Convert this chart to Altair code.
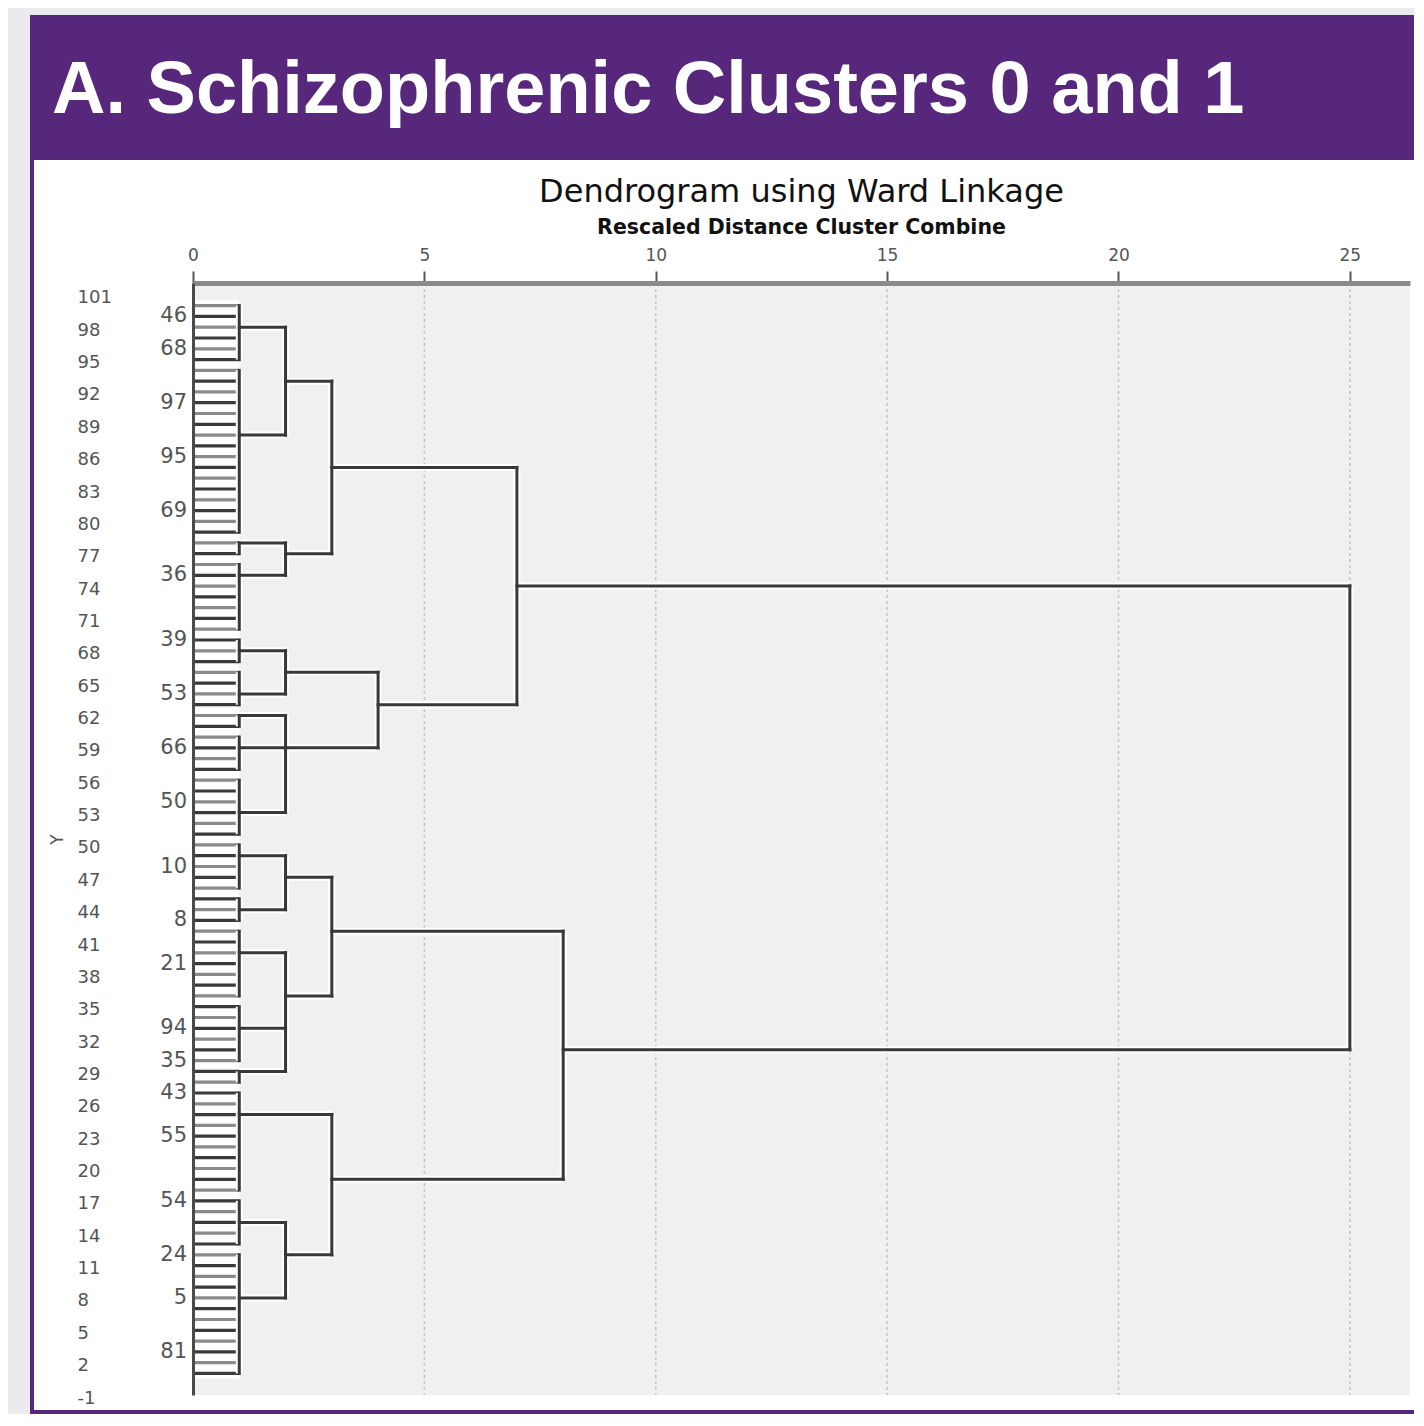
import altair as alt
import pandas as pd

# ---------------- data ----------------
header_text = "A. Schizophrenic Clusters 0 and 1"
chart_title = "Dendrogram using Ward Linkage"
chart_subtitle = "Rescaled Distance Cluster Combine"

x_ticks = [0, 5, 10, 15, 20, 25]
y_ticks = [101, 98, 95, 92, 89, 86, 83, 80, 77, 74, 71, 68, 65, 62, 59, 56, 53, 50,
           47, 44, 41, 38, 35, 32, 29, 26, 23, 20, 17, 14, 11, 8, 5, 2, -1]

# ordinal positions of the 100 cases (leaves), top to bottom
leaf_positions = list(range(100, 0, -1))

# case labels that are printed beside some leaves
leaf_label_text = ["46", "68", "97", "95", "69", "36", "39", "53", "66", "50", "10",
                   "8", "21", "94", "35", "43", "55", "54", "24", "5", "81"]
leaf_label_y = [99, 96, 91, 86, 81, 75, 69, 64, 59, 54, 48, 43, 39, 33, 30, 27, 23,
                17, 12, 8, 3]

# first-level clusters (joined at rescaled distance 1)
cluster_top = [100, 94, 78, 76, 69, 66, 62, 60, 56, 50, 45, 42, 35, 29, 27, 17, 12]
cluster_bottom = [95, 79, 77, 70, 67, 63, 61, 57, 51, 46, 43, 36, 30, 28, 18, 13, 1]
cluster_join_y = [98, 88, 78, 75, 68, 64, 62, 59, 53, 49, 44, 40, 33, 29, 25, 15, 8]
cluster_parent = [2, 2, 2, 2, 2, 2, 2, 2, 2, 2, 2, 2, 2, 2, 3, 2, 2]

# higher merge nodes
node_dist = [2, 2, 2, 2, 2, 2, 2, 3, 3, 3, 4, 7, 8, 25]
node_top = [98, 78, 68, 62, 49, 40, 15, 93, 47, 25, 66, 85, 42, 74]
node_bottom = [88, 75, 64, 53, 44, 29, 8, 77, 36, 12, 59, 63, 19, 31]
node_join_y = [93, 77, 66, 59, 47, 36, 12, 85, 42, 19, 63, 74, 31, None]
node_parent = [3, 3, 4, 4, 3, 3, 3, 7, 8, 8, 7, 25, 25, None]

# ---------------- tables ----------------
leaves = pd.DataFrame({
    "x": [0] * len(leaf_positions),
    "x2": [1] * len(leaf_positions),
    "y": leaf_positions,
    "y2": leaf_positions,
    "shade": ["a" if k % 2 == 0 else "b" for k in leaf_positions],
})

segs = []
for t, b, j, p in zip(cluster_top, cluster_bottom, cluster_join_y, cluster_parent):
    segs.append((1, 1, t, b))
    segs.append((1, p, j, j))
for d, t, b, j, p in zip(node_dist, node_top, node_bottom, node_join_y, node_parent):
    segs.append((d, d, t, b))
    if p is not None:
        segs.append((d, p, j, j))
links = pd.DataFrame(segs, columns=["x", "x2", "y", "y2"])

labels = pd.DataFrame({"x": [0] * len(leaf_label_text), "y": leaf_label_y,
                       "label": leaf_label_text})
grid = pd.DataFrame({"x": x_ticks[1:]})
leaf_area = pd.DataFrame({"x": [0], "x2": [1], "y": [0.5], "y2": [100.5]})
one = pd.DataFrame({"a": [0]})

# ---------------- layout ----------------
W, H = 1217, 1112
FONT = "DejaVu Sans"
PURPLE = "#57277b"

xscale = alt.Scale(domain=[0, 26.3], nice=False, zero=False)
yscale = alt.Scale(domain=[-1, 102.1], nice=False, zero=False)

xaxis = alt.Axis(orient="top", values=x_ticks, grid=False, title=None,
                 domainColor="#8a8a8a", domainWidth=5, tickColor="#555555",
                 tickSize=12, tickWidth=2, labelFont=FONT, labelFontSize=17,
                 labelColor="#555555", labelBaseline="middle", labelPadding=16,
                 labelFlush=False, zindex=1)
yaxis = alt.Axis(orient="left", values=y_ticks, grid=False, ticks=False, tickSize=0,
                 domainColor="#4a4a4a", domainWidth=3, labelFont=FONT,
                 labelFontSize=18, labelColor="#555555", labelAlign="left",
                 labelBaseline="middle", labelPadding=116, labelOffset=3,
                 labelFlush=False, labelExpr="datum.value + ''",
                 title="Y", titleFont=FONT, titleFontSize=17, titleFontWeight="normal",
                 titleColor="#555555", titleAngle=270, titleX=-136, titleY=H / 2,
                 titleAlign="center", titleBaseline="middle", zindex=1)

X = alt.X("x:Q", scale=xscale, axis=xaxis)
X2 = alt.X2("x2")
Y = alt.Y("y:Q", scale=yscale, axis=yaxis)
Y2 = alt.Y2("y2")

purple_frame = alt.Chart(one).mark_rect(color=PURPLE).encode(
    x=alt.value(-163), x2=alt.value(1240), y=alt.value(-268), y2=alt.value(1132))
white_panel = alt.Chart(one).mark_rect(color="white").encode(
    x=alt.value(-159), x2=alt.value(1240), y=alt.value(-123), y2=alt.value(1127))
plot_bg = alt.Chart(one).mark_rect(color="#f0f0f0").encode(
    x=alt.value(0), x2=alt.value(W), y=alt.value(0), y2=alt.value(H))

grid_lines = alt.Chart(grid).mark_rule(color="#c4c4c4", strokeWidth=1.5,
                                       strokeDash=[3, 3]).encode(
    x=X, y=alt.value(0), y2=alt.value(H))

leaf_bg = alt.Chart(leaf_area).mark_rect(color="white").encode(x=X, x2=X2, y=Y, y2=Y2)

leaf_lines = alt.Chart(leaves).mark_rule(strokeWidth=3.2).encode(
    x=X, x2=X2, y=Y, y2=Y2,
    color=alt.Color("shade:N", scale=alt.Scale(domain=["a", "b"],
                                                range=["#8a8a8a", "#3a3a3a"]),
                    legend=None))

halo = alt.Chart(links).mark_rule(color="white", strokeWidth=7).encode(
    x=X, x2=X2, y=Y, y2=Y2)
link_lines = alt.Chart(links).mark_rule(color="#383838", strokeWidth=3,
                                        strokeCap="square").encode(
    x=X, x2=X2, y=Y, y2=Y2)

leaf_text = alt.Chart(labels).mark_text(font=FONT, fontSize=21, color="#555555",
                                        align="right", baseline="middle", dx=-6).encode(
    x=X, y=Y, text="label:N")

header = alt.Chart(one).mark_text(text=header_text, font="Liberation Sans",
                                  fontSize=74, fontWeight="bold", color="white",
                                  align="left", baseline="alphabetic").encode(
    x=alt.value(-141), y=alt.value(-170))

title_mark = alt.Chart(one).mark_text(text=chart_title, font=FONT, fontSize=32,
                                      fontWeight="normal", color="#111111",
                                      align="center", baseline="alphabetic").encode(
    x=alt.value(W / 2), y=alt.value(-81))
subtitle_mark = alt.Chart(one).mark_text(text=chart_subtitle, font=FONT, fontSize=20.5,
                                         fontWeight="bold", color="#111111",
                                         align="center", baseline="alphabetic").encode(
    x=alt.value(W / 2), y=alt.value(-49))

chart = alt.layer(
    purple_frame, white_panel, plot_bg, grid_lines, leaf_bg, leaf_lines,
    halo, link_lines, leaf_text, header, title_mark, subtitle_mark
).properties(
    width=W, height=H,
    padding={"left": 185, "top": 275, "right": 4, "bottom": 19},
    autosize=alt.AutoSizeParams(type="none"),
    background="#ebebee",
).configure_view(stroke="#505050", strokeWidth=2.5)

chart.save("out.html", embed_options={"renderer": "svg", "actions": False})
